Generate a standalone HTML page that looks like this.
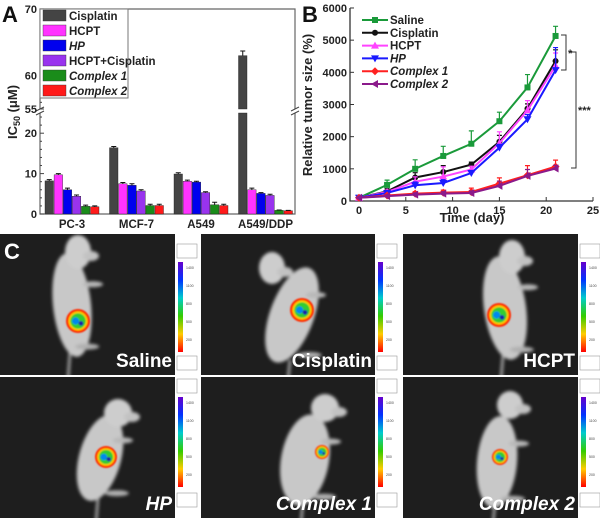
<!DOCTYPE html>
<html><head><meta charset="utf-8"><style>
html,body{margin:0;padding:0;background:#fff;}
svg{display:block;font-family:"Liberation Sans",Arial,sans-serif;}
</style></head><body>
<svg id="fig" width="600" height="520" viewBox="0 0 600 520" xmlns="http://www.w3.org/2000/svg">
<defs>
<filter id="blur2"><feGaussianBlur stdDeviation="1.6"/></filter>
<filter id="blur1"><feGaussianBlur stdDeviation="0.8"/></filter>
<linearGradient id="rainbow" x1="0" y1="1" x2="0" y2="0">
<stop offset="0" stop-color="#ff0000"/><stop offset="0.2" stop-color="#ffcc00"/><stop offset="0.4" stop-color="#33cc00"/><stop offset="0.6" stop-color="#00cccc"/><stop offset="0.8" stop-color="#0033ff"/><stop offset="1" stop-color="#6600cc"/>
</linearGradient>
</defs>
<g id="panelA"></g>
<g id="panelB"></g>
<g id="panelC"></g>
</svg>
<script>
// ---------- Panel A data ----------
const catsA = ["PC-3","MCF-7","A549","A549/DDP"];
const seriesA = ["Cisplatin","HCPT","HP","HCPT+Cisplatin","Complex 1","Complex 2"];
const cisplatinA = [8.2,16.4,9.9,63.0];
const hcptA = [9.7,7.5,8.1,6.0];
const hpA = [6.0,7.1,7.9,5.1];
const comboA = [4.4,5.7,5.3,4.6];
const complex1A = [1.9,2.1,2.3,0.9];
const complex2A = [1.8,2.1,2.1,0.8];
const errA = [[0.3,0.3,0.3,0.7],[0.3,0.3,0.3,0.4],[0.4,0.4,0.2,0.2],[0.3,0.3,0.2,0.3],[0.3,0.3,0.6,0.1],[0.2,0.3,0.3,0.1]];
const lowTicksA = [0,10,20];
const highTicksA = [55,60,70];

// ---------- Panel B data ----------
const daysB = [0,3,6,9,12,15,18,21];
const namesB = ["Saline","Cisplatin","HCPT","HP","Complex 1","Complex 2"];
const salineB = [100,500,1000,1400,1780,2480,3530,5130];
const salineErrB = [0,150,280,300,400,280,400,300];
const cisplatinB = [100,300,730,900,1130,1840,2870,4350];
const cisplatinErrB = [0,80,150,200,80,200,150,350];
const hcptB = [100,280,600,760,980,1800,2820,4200];
const hcptErrB = [0,60,150,300,100,350,300,400];
const hpB = [100,250,490,560,870,1660,2540,4070];
const hpErrB = [0,60,100,100,80,100,150,700];
const complex1B = [100,170,230,260,280,540,800,1070];
const complex1ErrB = [0,40,60,80,120,180,300,200];
const complex2B = [100,150,200,230,250,470,780,1010];
const complex2ErrB = [0,40,50,60,60,150,200,100];
const xTicksB = [0,5,10,15,20,25];
const yTicksB = [0,1000,2000,3000,4000,5000,6000];

const NS="http://www.w3.org/2000/svg";
function mk(parent,tag,attrs,text){const e=document.createElementNS(NS,tag);for(const k in attrs)e.setAttribute(k,attrs[k]);if(text!==undefined)e.textContent=text;parent.appendChild(e);return e;}

// ======= PANEL A =======
(function(){
const g=document.getElementById('panelA');
const L=40,R=295,B0=214,BRK_LO=113,BRK_HI=109,T=9;
const yA=v=> v<=25 ? B0-v*4.04 : BRK_HI-(v-55)*6.67;
const colors=["#444444","#ff33ff","#0000ee","#9933ee","#1a8c1a","#ff1a1a"];
const data=[cisplatinA,hcptA,hpA,comboA,complex1A,complex2A];
const groupX=i=>45+i*64.5, bw=9.1;
let e=mk(g,'path',{d:`M${L} ${BRK_LO}V${B0}H${R}V${BRK_LO}M${L} ${BRK_HI}V${T}H${R}V${BRK_HI}`,fill:'none',stroke:'#666','stroke-width':1.2});

[L,R].forEach(x=>{[BRK_HI,BRK_LO].forEach(y=>{const m=mk(g,'line',{x1:x-4,y1:y+2,x2:x+4,y2:y-2,stroke:'#444','stroke-width':1});});});
lowTicksA.concat(highTicksA).forEach(v=>{const y=yA(v);
 const t=mk(g,'line',{x1:L,y1:y,x2:L+4,y2:y,stroke:'#444'});
 const tx=mk(g,'text',{x:L-3,y:y+4,'text-anchor':'end','font-size':11,'font-weight':'bold',fill:'#222'},v);});
for(let v=2;v<25;v+=2){if(v%10===0)continue;const y=yA(v);const t=mk(g,'line',{x1:L,y1:y,x2:L+2,y2:y,stroke:'#444'});}
for(let v=56;v<70;v+=2){const y=yA(v);const t=mk(g,'line',{x1:L,y1:y,x2:L+2,y2:y,stroke:'#444'});}
const yt=mk(g,'text',{transform:'translate(17,112) rotate(-90)','text-anchor':'middle','font-size':13,'font-weight':'bold',fill:'#222'});

mk(yt,'tspan',{},'IC');mk(yt,'tspan',{'font-size':9,dy:3},'50');mk(yt,'tspan',{dy:-3},' (μM)');
data.forEach((arr,s)=>{arr.forEach((v,i)=>{
 const x=groupX(i)+s*bw;
 if(v>25){
  const b1=mk(g,'rect',{x:x,y:BRK_LO,width:bw-0.6,height:B0-BRK_LO,fill:colors[s],stroke:'#222','stroke-width':0.4});
  
  const y=yA(v);
  const b2=mk(g,'rect',{x:x,y:y,width:bw-0.6,height:BRK_HI-y,fill:colors[s],stroke:'#222','stroke-width':0.4});
  
 }else{
  const y=yA(v);
  const b=mk(g,'rect',{x:x,y:y,width:bw-0.6,height:B0-y,fill:colors[s],stroke:'#222','stroke-width':0.4});
  
 }
 const ye=yA(v+errA[s][i]),cx=x+bw/2-0.3;
 const eb=mk(g,'path',{d:`M${cx} ${yA(v)}V${ye}M${cx-2.5} ${ye}H${cx+2.5}`,stroke:'#111','stroke-width':1});
 
});});
catsA.forEach((c,i)=>{const t=mk(g,'text',{x:groupX(i)+27,y:228,'text-anchor':'middle','font-size':11.5,'font-weight':'bold',fill:'#222'},c);});
const lg=mk(g,'g',{});
const lb=mk(lg,'rect',{x:L,y:T,width:88,height:89,fill:'#fff',stroke:'#777','stroke-width':1});
seriesA.forEach((n,s)=>{const y=16+s*15;
 const sw=mk(lg,'rect',{x:43,y:y-6,width:23,height:11,fill:colors[s],stroke:'#333','stroke-width':0.4});
 const it=(n==="HP"||n.startsWith("Complex"));
 const t=mk(lg,'text',{x:69,y:y+4,'font-size':11.5,'font-weight':'bold','font-style':it?'italic':'normal',fill:'#222'},n);});
const pa=mk(g,'text',{x:2,y:22,'font-size':22,'font-weight':'bold',fill:'#111'},'A');
})();

// ======= PANEL B =======
(function(){
const g=document.getElementById('panelB');
const L=350,R=593,B0=201;
const xB=d=>359+d*9.36, yB=v=>B0-v*0.03217;
const e=mk(g,'path',{d:`M${L} 8V${B0}H${R}`,fill:'none',stroke:'#333','stroke-width':1.3});
yTicksB.forEach(v=>{const y=yB(v);const t=mk(g,'line',{x1:L,y1:y,x2:L+4,y2:y,stroke:'#333'});
 const tx=mk(g,'text',{x:L-3,y:y+4,'text-anchor':'end','font-size':11,'font-weight':'bold',fill:'#222'},v);});
xTicksB.forEach(d=>{const x=xB(d);const t=mk(g,'line',{x1:x,y1:B0,x2:x,y2:B0-4,stroke:'#333'});
 const tx=mk(g,'text',{x:x,y:B0+13,'text-anchor':'middle','font-size':11,'font-weight':'bold',fill:'#222'},d);});
const xt=mk(g,'text',{x:472,y:222,'text-anchor':'middle','font-size':13,'font-weight':'bold',fill:'#222'},'Time (day)');
const yt=mk(g,'text',{transform:'translate(312,105) rotate(-90)','text-anchor':'middle','font-size':13,'font-weight':'bold',fill:'#222'},'Relative tumor size (%)');
const series=[[salineB,salineErrB,'#1a9a3a','square'],[cisplatinB,cisplatinErrB,'#111111','circle'],[hcptB,hcptErrB,'#ff44ff','tri-up'],[hpB,hpErrB,'#1a1aff','tri-down'],[complex1B,complex1ErrB,'#ff2020','diamond'],[complex2B,complex2ErrB,'#8b1a8b','tri-left']];
function marker(par,shape,x,y,c,r){let m;
 if(shape==='square')m=mk(par,'rect',{x:x-r,y:y-r,width:2*r,height:2*r,fill:c});
 else if(shape==='circle')m=mk(par,'circle',{cx:x,cy:y,r:r,fill:c});
 else if(shape==='tri-up')m=mk(par,'path',{d:`M${x} ${y-r-1}L${x+r+1} ${y+r}L${x-r-1} ${y+r}Z`,fill:c});
 else if(shape==='tri-down')m=mk(par,'path',{d:`M${x} ${y+r+1}L${x+r+1} ${y-r}L${x-r-1} ${y-r}Z`,fill:c});
 else if(shape==='diamond')m=mk(par,'path',{d:`M${x} ${y-r-1}L${x+r+1} ${y}L${x} ${y+r+1}L${x-r-1} ${y}Z`,fill:c});
 else m=mk(par,'path',{d:`M${x-r-1} ${y}L${x+r} ${y-r-1}L${x+r} ${y+r+1}Z`,fill:c});
 return m;}
series.forEach((s,si)=>{const [vals,errs,c,shape]=s;
 const sg=mk(g,'g',{});
 vals.forEach((v,i)=>{if(!errs[i])return;const x=xB(daysB[i]),y=yB(v),ye=yB(v+errs[i]);
  const eb=mk(sg,'path',{d:`M${x} ${y}V${ye}M${x-2.5} ${ye}H${x+2.5}`,stroke:c,'stroke-width':1.2});});
 const pl=mk(sg,'polyline',{points:vals.map((v,i)=>xB(daysB[i])+','+yB(v)).join(' '),fill:'none',stroke:c,'stroke-width':2});
 vals.forEach((v,i)=>{const m=marker(sg,shape,xB(daysB[i]),yB(v),c,3);});
 const ly=20+si*12.8;
 const ll=mk(g,'line',{x1:362,y1:ly,x2:388,y2:ly,stroke:c,'stroke-width':2});
 const lm=marker(g,shape,375,ly,c,3);
 const it=(namesB[si]==="HP"||namesB[si].startsWith("Complex"));
 const lt=mk(g,'text',{x:390,y:ly+4,'font-size':11.5,'font-weight':'bold','font-style':it?'italic':'normal',fill:'#222'},namesB[si]);
});
const b1=mk(g,'path',{d:'M561 35H566V70H561',fill:'none',stroke:'#333','stroke-width':1});
const s1=mk(g,'text',{x:568,y:57,'font-size':11,'font-weight':'bold',fill:'#222'},'*');
const b2=mk(g,'path',{d:'M571 52H576V168H571',fill:'none',stroke:'#333','stroke-width':1});
const s2=mk(g,'text',{x:578,y:114,'font-size':11,'font-weight':'bold',fill:'#222'},'***');
const pb=mk(g,'text',{x:302,y:22,'font-size':22,'font-weight':'bold',fill:'#111'},'B');
})();

// ======= PANEL C =======
(function(){
const g=document.getElementById('panelC');
const bgc=mk(g,'rect',{x:0,y:233,width:600,height:287,fill:'#fff'});
const panels=[
 {x:0,y:234,w:175,h:141,label:'Saline',it:false,body:[72,305,19,52,-6],head:[78,252,13,17],tum:[78,321,12]},
 {x:201,y:234,w:174,h:141,label:'Cisplatin',it:false,body:[292,315,22,50,20],head:[272,268,13,16],tum:[302,310,12]},
 {x:403,y:234,w:175,h:141,label:'HCPT',it:false,body:[505,308,21,52,-8],head:[512,257,13,17],tum:[499,315,12]},
 {x:0,y:377,w:175,h:141,label:'HP',it:true,body:[100,458,21,44,15],head:[118,413,14,14],tum:[106,457,11]},
 {x:201,y:377,w:174,h:141,label:'Complex 1',it:true,body:[305,460,24,46,10],head:[325,408,14,14],tum:[322,452,7]},
 {x:403,y:377,w:175,h:141,label:'Complex 2',it:true,body:[497,462,20,46,5],head:[510,405,13,14],tum:[500,457,8]}
];
panels.forEach((p,i)=>{
 const pg=mk(g,'g',{});
 const cp='clip'+i;const cl=mk(pg,'clipPath',{id:cp});mk(cl,'rect',{x:p.x,y:p.y,width:p.w,height:p.h});
 const ig=mk(pg,'g',{'clip-path':`url(#${cp})`});
 mk(ig,'rect',{x:p.x,y:p.y,width:p.w,height:p.h,fill:'#1e1e1e'});
 const mouse=mk(ig,'g',{filter:'url(#blur2)'});
 const [bx,by,rx,ry,rot]=p.body,[hx,hy,hrx,hry]=p.head;
 mk(mouse,'line',{x1:bx-2,y1:by+ry-5,x2:bx-4,y2:p.y+p.h+5,stroke:'#999','stroke-width':3});
 mk(mouse,'ellipse',{cx:bx,cy:by,rx:rx,ry:ry,fill:'#c8c8c8',transform:`rotate(${rot} ${bx} ${by})`});
 mk(mouse,'ellipse',{cx:hx,cy:hy,rx:hrx,ry:hry,fill:'#cdcdcd'});
 mk(mouse,'ellipse',{cx:hx+hrx,cy:hy+4,rx:8,ry:5,fill:'#c2c2c2'});
 mk(mouse,'ellipse',{cx:bx+rx+2,cy:by-ry*0.4,rx:10,ry:3,fill:'#b8b8b8'});
 mk(mouse,'ellipse',{cx:bx+rx*0.8,cy:by+ry*0.8,rx:12,ry:3,fill:'#b0b0b0'});
 const [tx,ty,tr]=p.tum;
 const tg=mk(ig,'g',{filter:'url(#blur1)'});
 mk(tg,'circle',{cx:tx,cy:ty,r:tr,fill:'#ff2a00'});
 mk(tg,'circle',{cx:tx,cy:ty,r:tr*0.8,fill:'#ffcc00'});
 mk(tg,'circle',{cx:tx,cy:ty,r:tr*0.65,fill:'#33cc33'});
 mk(tg,'circle',{cx:tx-tr*0.2,cy:ty,r:tr*0.3,fill:'#0088ee'});
 mk(tg,'circle',{cx:tx+tr*0.25,cy:ty+tr*0.2,r:tr*0.2,fill:'#1a1aaa'});
 const lt=mk(ig,'text',{x:p.x+p.w-3,y:p.y+p.h-8,'text-anchor':'end','font-size':19,'font-weight':'bold','font-style':p.it?'italic':'normal',fill:'#fff'},p.label);
 
 const cx=p.x+p.w+2;
 const cb=mk(pg,'g',{});
 mk(cb,'rect',{x:cx,y:p.y+(i<3?10:2),width:20,height:14,fill:'#fff',stroke:'#999','stroke-width':0.6});
 mk(cb,'rect',{x:cx+1,y:p.y+(i<3?28:20),width:5,height:90,fill:'url(#rainbow)'});
 for(let k=0;k<5;k++){mk(cb,'text',{x:cx+9,y:p.y+(i<3?35:27)+k*18,'font-size':3.5,fill:'#444'},String(1400-k*300));}
 mk(cb,'rect',{x:cx,y:p.y+(i<3?122:116),width:20,height:14,fill:'#fff',stroke:'#999','stroke-width':0.6});
});
const pc=mk(g,'text',{x:4,y:259,'font-size':22,'font-weight':'bold',fill:'#fff'},'C');
})();
</script>
</body></html>
